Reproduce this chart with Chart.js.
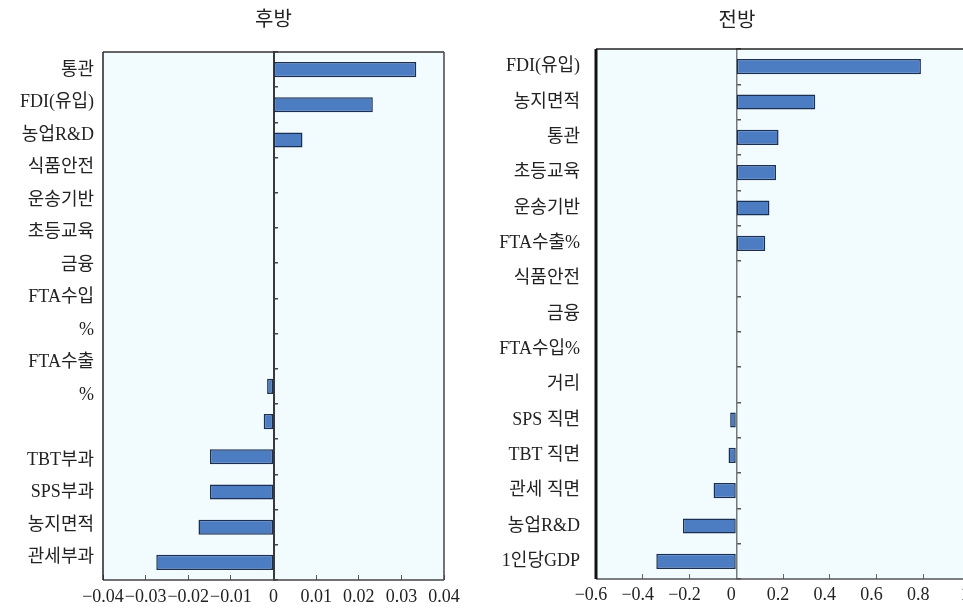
<!DOCTYPE html>
<html>
<head>
<meta charset="utf-8">
<script src="https://cdn.jsdelivr.net/npm/chart.js@4/dist/chart.umd.min.js"></script>
<style>
  html, body { margin: 0; padding: 0; background: #ffffff; overflow: hidden; width: 963px; height: 609px; }
  #c1 { position: absolute; left: 0; top: 0; }
  #c2 { position: absolute; left: 480px; top: 0; }
</style>
</head>
<body>
<canvas id="c1" width="480" height="609"></canvas>
<canvas id="c2" width="514" height="609"></canvas>
<script>
// ---------- data: 후방 (backward) ----------
const backTitle = '후방';
const backCategories = ['통관', 'FDI(유입)', '농업R&D', '식품안전', '운송기반', '초등교육', '금융',
  'FTA수입%', 'FTA수출%', '거리', 'TBT부과', 'SPS부과', '농지면적', '관세부과', '1인당GDP'];
const backValues = [0.0335, 0.0233, 0.0068, 0, 0, 0, 0, 0, 0, -0.0015, -0.0023, -0.0149, -0.0149, -0.0176, -0.0275];
// printed label column of the left panel (text lines as they appear)
const backLabelLines = ['통관', 'FDI(유입)', '농업R&D', '식품안전', '운송기반', '초등교육', '금융',
  'FTA수입', '%', 'FTA수출', '%', '', 'TBT부과', 'SPS부과', '농지면적', '관세부과', '1인당GDP'];
const backXTicks = ['−0.04', '−0.03', '−0.02', '−0.01', '0', '0.01', '0.02', '0.03', '0.04'];

// ---------- data: 전방 (forward) ----------
const foreTitle = '전방';
const foreCategories = ['FDI(유입)', '농지면적', '통관', '초등교육', '운송기반', 'FTA수출%', '식품안전', '금융',
  'FTA수입%', '거리', 'SPS 직면', 'TBT 직면', '관세 직면', '농업R&D', '1인당GDP'];
const foreValues = [0.79, 0.338, 0.181, 0.17, 0.142, 0.124, 0, 0, 0, 0, -0.026, -0.033, -0.097, -0.228, -0.342];
const foreXTicks = ['−0.6', '−0.4', '−0.2', '0', '0.2', '0.4', '0.6', '0.8', '1'];

// ---------- styling ----------
const FONT = '"Liberation Serif", "Noto Sans CJK KR", serif';
const TEXT = '#222222';
const BAR_FILL = '#4c7cc2';
const BAR_EDGE = '#1b2f52';

const framePlugin = {
  id: 'frame',
  beforeDraw(chart, args, o) {
    const a = chart.chartArea, ctx = chart.ctx;
    ctx.save();
    ctx.fillStyle = o.bg;
    ctx.fillRect(a.left, a.top, a.right - a.left, a.bottom - a.top);
    ctx.restore();
  },
  afterDraw(chart, args, o) {
    const a = chart.chartArea, ctx = chart.ctx;
    const edge = (e, x1, y1, x2, y2) => {
      if (!e) return;
      ctx.save();
      ctx.strokeStyle = e.c; ctx.lineWidth = e.w;
      ctx.beginPath(); ctx.moveTo(x1, y1); ctx.lineTo(x2, y2); ctx.stroke();
      ctx.restore();
    };
    edge(o.top, a.left, a.top, a.right, a.top);
    edge(o.bottom, a.left, a.bottom, a.right, a.bottom);
    edge(o.right, a.right, a.top, a.right, a.bottom);
    edge(o.left, a.left, a.top, a.left, a.bottom);
  }
};

function barDataset(values) {
  return {
    data: values,
    backgroundColor: BAR_FILL,
    borderColor: BAR_EDGE,
    borderWidth: 1.5,
    borderSkipped: false,
    categoryPercentage: 1,
    barPercentage: 0.43,
    xAxisID: 'x',
    yAxisID: 'y'
  };
}

// label-line axis range for the left panel (in label-line units)
const LINE_MIN = -0.554, LINE_MAX = 15.692;

// ---------- left chart (후방) ----------
new Chart(document.getElementById('c1'), {
  type: 'bar',
  data: { labels: backCategories, datasets: [barDataset(backValues)] },
  plugins: [framePlugin],
  options: {
    indexAxis: 'y',
    responsive: false,
    animation: false,
    layout: { padding: { left: 0, right: 36, top: 0, bottom: 0 } },
    plugins: {
      legend: { display: false },
      tooltip: { enabled: false },
      title: {
        display: true, text: backTitle, fullSize: false,
        color: TEXT, font: { family: FONT, size: 20, weight: 'normal' },
        padding: { top: 9, bottom: 19 }
      },
      frame: {
        bg: '#f2fcfe',
        top: { c: '#333', w: 1.5 }, bottom: { c: '#444', w: 1.5 },
        left: { c: '#222', w: 1.5 }, right: { c: '#444', w: 1.5 }
      }
    },
    scales: {
      x: {
        type: 'linear', position: 'bottom',
        min: -0.04, max: 0.04,
        afterFit: (s) => { s.height = 29; },
        grid: { display: true, drawOnChartArea: false, drawTicks: true, tickLength: -5, color: '#555', lineWidth: 1 },
        border: { display: false },
        ticks: {
          stepSize: 0.01, autoSkip: false, maxRotation: 0, padding: 11,
          color: TEXT, font: { family: FONT, size: 18 },
          callback: (v, i) => backXTicks[i]
        }
      },
      y: {
        type: 'category', position: { x: 0 },
        grid: { display: true, offset: true, drawOnChartArea: false, drawTicks: true, tickLength: -5, color: '#444', lineWidth: 1.5 },
        border: { display: true, color: '#3a3a3a', width: 2 },
        ticks: { display: false }
      },
      yl: {
        type: 'linear', position: 'left', reverse: true, bounds: 'data', offset: false,
        min: LINE_MIN, max: LINE_MAX,
        afterBuildTicks: (s) => {
          s.min = LINE_MIN; s.max = LINE_MAX;
          s.ticks = backLabelLines.map((_, i) => ({ value: i })).filter(t => t.value <= LINE_MAX);
        },
        afterFit: (s) => { s.width = 103; },
        grid: { display: false, drawTicks: false, offset: false },
        border: { display: false },
        ticks: {
          autoSkip: false, padding: 9,
          color: TEXT, font: { family: FONT, size: 18 },
          callback: (v) => backLabelLines[v]
        }
      }
    }
  }
});

// ---------- right chart (전방) ----------
new Chart(document.getElementById('c2'), {
  type: 'bar',
  data: { labels: foreCategories, datasets: [barDataset(foreValues)] },
  plugins: [framePlugin],
  options: {
    indexAxis: 'y',
    responsive: false,
    animation: false,
    layout: { padding: { left: 0, right: 0, top: 0, bottom: 0 } },
    plugins: {
      legend: { display: false },
      tooltip: { enabled: false },
      title: {
        display: true, text: foreTitle, fullSize: true,
        color: TEXT, font: { family: FONT, size: 20, weight: 'normal' },
        padding: { top: 10, bottom: 15 }
      },
      frame: {
        bg: '#f2fcfe',
        top: { c: '#222', w: 1.5 }, bottom: { c: '#555', w: 1.5 },
        left: { c: '#111', w: 3 }
      }
    },
    scales: {
      x: {
        type: 'linear', position: 'bottom',
        min: -0.6, max: 1,
        afterFit: (s) => { s.height = 30; },
        grid: { display: true, drawOnChartArea: false, drawTicks: true, tickLength: -5, color: '#666', lineWidth: 1 },
        border: { display: false },
        ticks: {
          stepSize: 0.2, autoSkip: false, maxRotation: 0, padding: 10, labelOffset: -5,
          color: TEXT, font: { family: FONT, size: 18 },
          callback: (v, i) => foreXTicks[i]
        }
      },
      y: {
        type: 'category', position: { x: 0 },
        grid: { display: true, offset: true, drawOnChartArea: false, drawTicks: true, tickLength: -5, color: '#555', lineWidth: 1.5 },
        border: { display: true, color: '#777', width: 1.5 },
        ticks: { display: false }
      },
      yc: {
        type: 'category', position: 'left',
        afterFit: (s) => { s.width = 116; },
        grid: { display: false, drawTicks: false },
        border: { display: false },
        ticks: {
          autoSkip: false, padding: 16,
          color: TEXT, font: { family: FONT, size: 18 }
        }
      },
      yr: {
        type: 'category', position: 'right',
        afterFit: (s) => { s.width = 24; },
        grid: { display: false, drawTicks: false },
        border: { display: false },
        ticks: { display: false }
      }
    }
  }
});
</script>
</body>
</html>
